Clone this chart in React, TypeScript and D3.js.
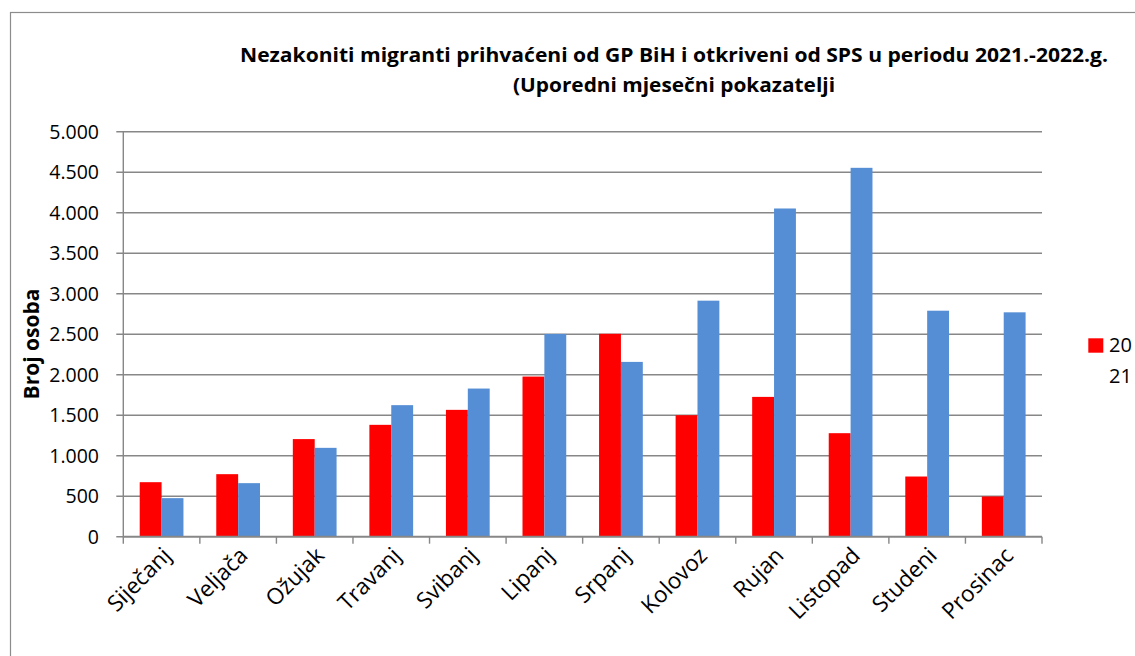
import React from "react";
import * as d3 from "d3";

// Monthly counts of irregular migrants, two reporting series
const months = [
  "Siječanj", "Veljača", "Ožujak", "Travanj", "Svibanj", "Lipanj",
  "Srpanj", "Kolovoz", "Rujan", "Listopad", "Studeni", "Prosinac",
];
const seriesNames = ["20", "21"];
const series20 = [673, 772, 1205, 1381, 1566, 1977, 2505, 1500, 1726, 1278, 743, 497];
const series21 = [476, 661, 1097, 1624, 1829, 2503, 2158, 2914, 4052, 4554, 2790, 2770];
const yTicks = [0, 500, 1000, 1500, 2000, 2500, 3000, 3500, 4000, 4500, 5000];
const titleLines = [
  "Nezakoniti migranti prihvaćeni od GP BiH i otkriveni od SPS u periodu 2021.-2022.g.",
  "(Uporedni mjesečni pokazatelji",
];
const yAxisTitle = "Broj osoba";

const W = 1135;
const H = 656;
const plot = { left: 123.3, right: 1042, top: 131.7, bottom: 536.7 };
const colors = ["#ff0000", "#558ed5"];
const gridColor = "#878787";
const font = "'Open Sans', 'DejaVu Sans', sans-serif";

const fmt = (v: number) => {
  const s = String(v);
  return s.length > 3 ? s.slice(0, s.length - 3) + "." + s.slice(-3) : s;
};

export default function App() {
  const x = d3
    .scaleBand<string>()
    .domain(months)
    .range([plot.left, plot.right])
    .paddingInner(1.5 / 3.5)
    .paddingOuter(0.75 / 3.5);
  const step = x.step();
  const xSub = d3
    .scaleBand<string>()
    .domain(seriesNames)
    .range([0, x.bandwidth()]);
  const y = d3.scaleLinear().domain([0, 5000]).range([plot.bottom, plot.top]);

  const data = [series20, series21];
  const catStart = (i: number) => plot.left + i * step;

  return (
    <svg
      width={W}
      height={H}
      style={{ position: "absolute", left: 0, top: 0, background: "#fff" }}
      fontFamily={font}
    >
      {/* chart frame */}
      <rect x={10.5} y={12.5} width={W + 20} height={H + 20} fill="#fff" stroke="#8c8c8c" strokeWidth={1.2} />

      {/* title */}
      <text
        x={674}
        y={62}
        textAnchor="middle"
        fontSize={20}
        fontWeight={700}
        textLength={868}
        lengthAdjust="spacingAndGlyphs"
      >
        {titleLines[0]}
      </text>
      <text
        x={674}
        y={92}
        textAnchor="middle"
        fontSize={20}
        fontWeight={700}
        textLength={322}
        lengthAdjust="spacingAndGlyphs"
      >
        {titleLines[1]}
      </text>

      {/* horizontal gridlines and y ticks */}
      {yTicks.map((t) => (
        <g key={t}>
          <line
            x1={plot.left - 7}
            x2={plot.right}
            y1={y(t)}
            y2={y(t)}
            stroke={gridColor}
            strokeWidth={1.4}
          />
          <text x={99} y={y(t)} dy="0.36em" textAnchor="end" fontSize={19.5} fill="#000">
            {fmt(t)}
          </text>
        </g>
      ))}

      {/* bars */}
      {data.map((vals, si) =>
        vals.map((v, i) => (
          <rect
            key={`${si}-${i}`}
            x={(x(months[i]) as number) + (xSub(seriesNames[si]) as number)}
            y={y(v)}
            width={xSub.bandwidth()}
            height={y(0) - y(v)}
            fill={colors[si]}
          />
        ))
      )}

      {/* y axis line */}
      <line x1={plot.left} x2={plot.left} y1={plot.top} y2={plot.bottom + 0.7} stroke={gridColor} strokeWidth={1.4} />
      {/* x axis line and category ticks */}
      <line x1={plot.left} x2={plot.right} y1={plot.bottom} y2={plot.bottom} stroke={gridColor} strokeWidth={1.8} />
      {d3.range(months.length + 1).map((i) => (
        <line
          key={i}
          x1={catStart(i)}
          x2={catStart(i)}
          y1={plot.bottom}
          y2={plot.bottom + 7}
          stroke={gridColor}
          strokeWidth={1.4}
        />
      ))}

      {/* month labels */}
      {months.map((m) => {
        const cx = (x(m) as number) + x.bandwidth() / 2;
        const ax = cx + 11;
        const ay = 557;
        return (
          <text
            key={m}
            x={ax}
            y={ay}
            textAnchor="end"
            fontSize={22.5}
            fill="#000"
            transform={`rotate(-45 ${ax} ${ay})`}
          >
            {m}
          </text>
        );
      })}

      {/* y axis title */}
      <text
        x={0}
        y={0}
        transform={`translate(38.5 344) rotate(-90)`}
        textAnchor="middle"
        fontSize={21}
        fontWeight={700}
      >
        {yAxisTitle}
      </text>

      {/* legend */}
      <rect x={1088.3} y={338.3} width={15} height={14.4} fill={colors[0]} />
      <text x={1109} y={352.3} fontSize={20}>
        {seriesNames[0]}
      </text>
      <text x={1109} y={383.3} fontSize={20}>
        {seriesNames[1]}
      </text>
    </svg>
  );
}
